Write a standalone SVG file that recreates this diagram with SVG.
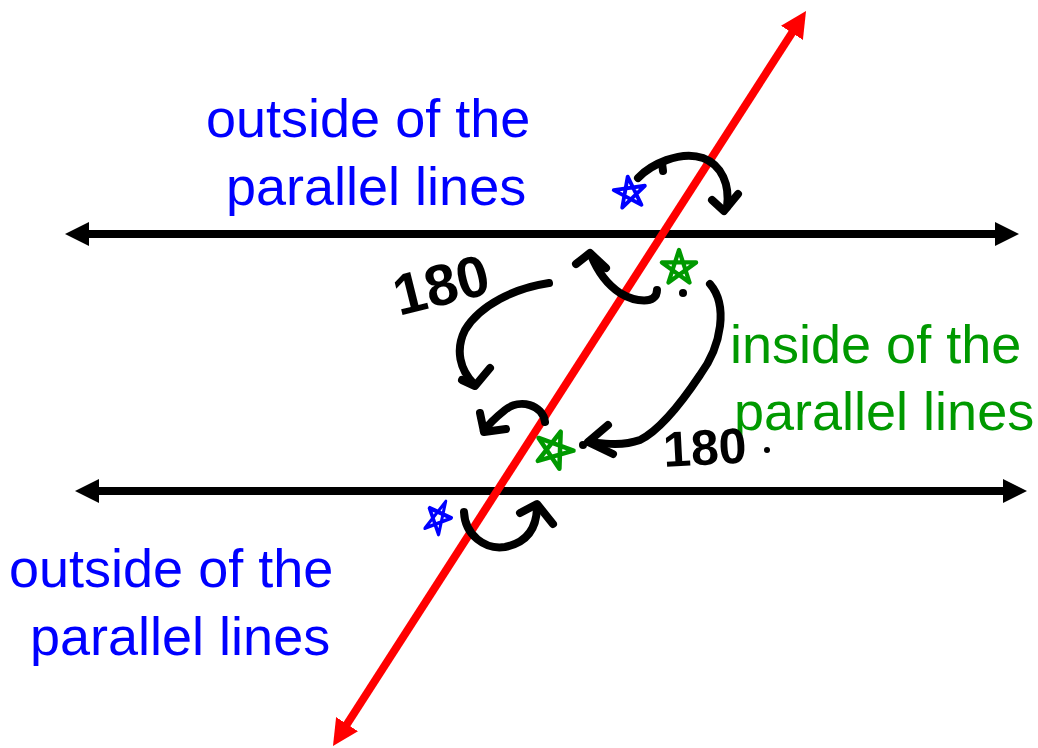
<svg xmlns="http://www.w3.org/2000/svg" width="1038" height="748" viewBox="0 0 1038 748">
<style>
.lbl{font-family:"Liberation Sans",Arial,sans-serif;font-size:54px}
.blue{fill:#0000ff}
.green{fill:#009900}
.ink{fill:none;stroke:#000;stroke-width:8;stroke-linecap:round;stroke-linejoin:round}
.hand{font-family:"Liberation Sans",Arial,sans-serif;font-weight:bold;fill:#000}
.star{fill:none;stroke-width:3.5;stroke-linecap:round;stroke-linejoin:round}
</style>
<defs>
<marker id="ab" markerUnits="userSpaceOnUse" viewBox="0 0 24 24" markerWidth="24" markerHeight="24" refX="4" refY="12" orient="auto-start-reverse">
<path d="M0,0 L24,12 L0,24 Z" fill="#000"/>
</marker>
<marker id="ar" markerUnits="userSpaceOnUse" viewBox="0 0 26 26" markerWidth="26" markerHeight="26" refX="6" refY="13" orient="auto-start-reverse">
<path d="M0,0 L26,13 L0,26 Z" fill="#ff0000"/>
</marker>
<path id="st" d="M0,-15 L8.82,12.14 L-14.27,-4.64 L14.27,-4.64 L-8.82,12.14 Z"/>
</defs>
<rect width="1038" height="748" fill="#fff"/>
<g id="connectors">
<line x1="85" y1="234" x2="999" y2="234" stroke="#000" stroke-width="8" marker-start="url(#ab)" marker-end="url(#ab)"/>
<line x1="95" y1="491" x2="1007" y2="491" stroke="#000" stroke-width="8" marker-start="url(#ab)" marker-end="url(#ab)"/>
<line x1="343.8" y1="729.2" x2="795.2" y2="27.8" stroke="#ff0000" stroke-width="8" marker-start="url(#ar)" marker-end="url(#ar)"/>
</g>
<g id="labels">
<text class="lbl blue" x="206" y="137">outside of the</text>
<text class="lbl blue" x="226" y="205">parallel lines</text>
<text class="lbl blue" x="9" y="587">outside of the</text>
<text class="lbl blue" x="30" y="655">parallel lines</text>
<text class="lbl green" x="730" y="363">inside of the</text>
<text class="lbl green" x="734" y="430">parallel lines</text>
</g>
<g id="annotations">
<path class="ink" d="M638,178 C650,165 680,150 703,158 C722,165 730,185 727,207"/>
<path class="ink" d="M712,200 L724,211 L738,194"/>
<path class="ink" d="M662,163 L663,171"/>
<path class="ink" d="M657,290 C657,305 635,302 620,293 C605,283 597,270 591,255"/>
<path class="ink" d="M576,264 L590,253 L606,268"/>
<path class="ink" d="M710,284 C728,305 722,345 700,375 C680,405 660,430 640,440 C620,447 600,443 589,442"/>
<path class="ink" d="M608,425 L588,442 L613,454"/>
<path class="ink" d="M549,283 C515,288 480,305 465,330 C455,350 460,370 474,384"/>
<path class="ink" d="M462,380 L475,386 L490,368"/>
<path class="ink" d="M545,422 C543,405 520,398 505,410 C495,418 488,425 484,431"/>
<path class="ink" d="M480,413 L484,432 L506,429"/>
<path class="ink" d="M464,512 C465,535 485,550 505,547 C525,543 537,530 537,506"/>
<path class="ink" d="M520,513 L537,504 L553,524"/>
<circle cx="683" cy="293" r="4"/>
<circle cx="583" cy="445" r="4"/>
<circle cx="767" cy="450" r="3"/>
<text class="hand" x="399" y="316" font-size="58" transform="rotate(-14 399 316)">180</text>
<text class="hand" x="664" y="467" font-size="50" transform="rotate(-3 664 467)">180</text>
<use href="#st" class="star" stroke="#0000ff" transform="translate(630,193) rotate(-8) scale(1.1)"/>
<use href="#st" class="star" stroke="#009900" transform="translate(679,268) scale(1.2)"/>
<use href="#st" class="star" stroke="#009900" transform="translate(554,450) rotate(20) scale(1.3)"/>
<use href="#st" class="star" stroke="#0000ff" transform="translate(438,518) rotate(25) scale(0.85,1.2)"/>
</g>
</svg>
